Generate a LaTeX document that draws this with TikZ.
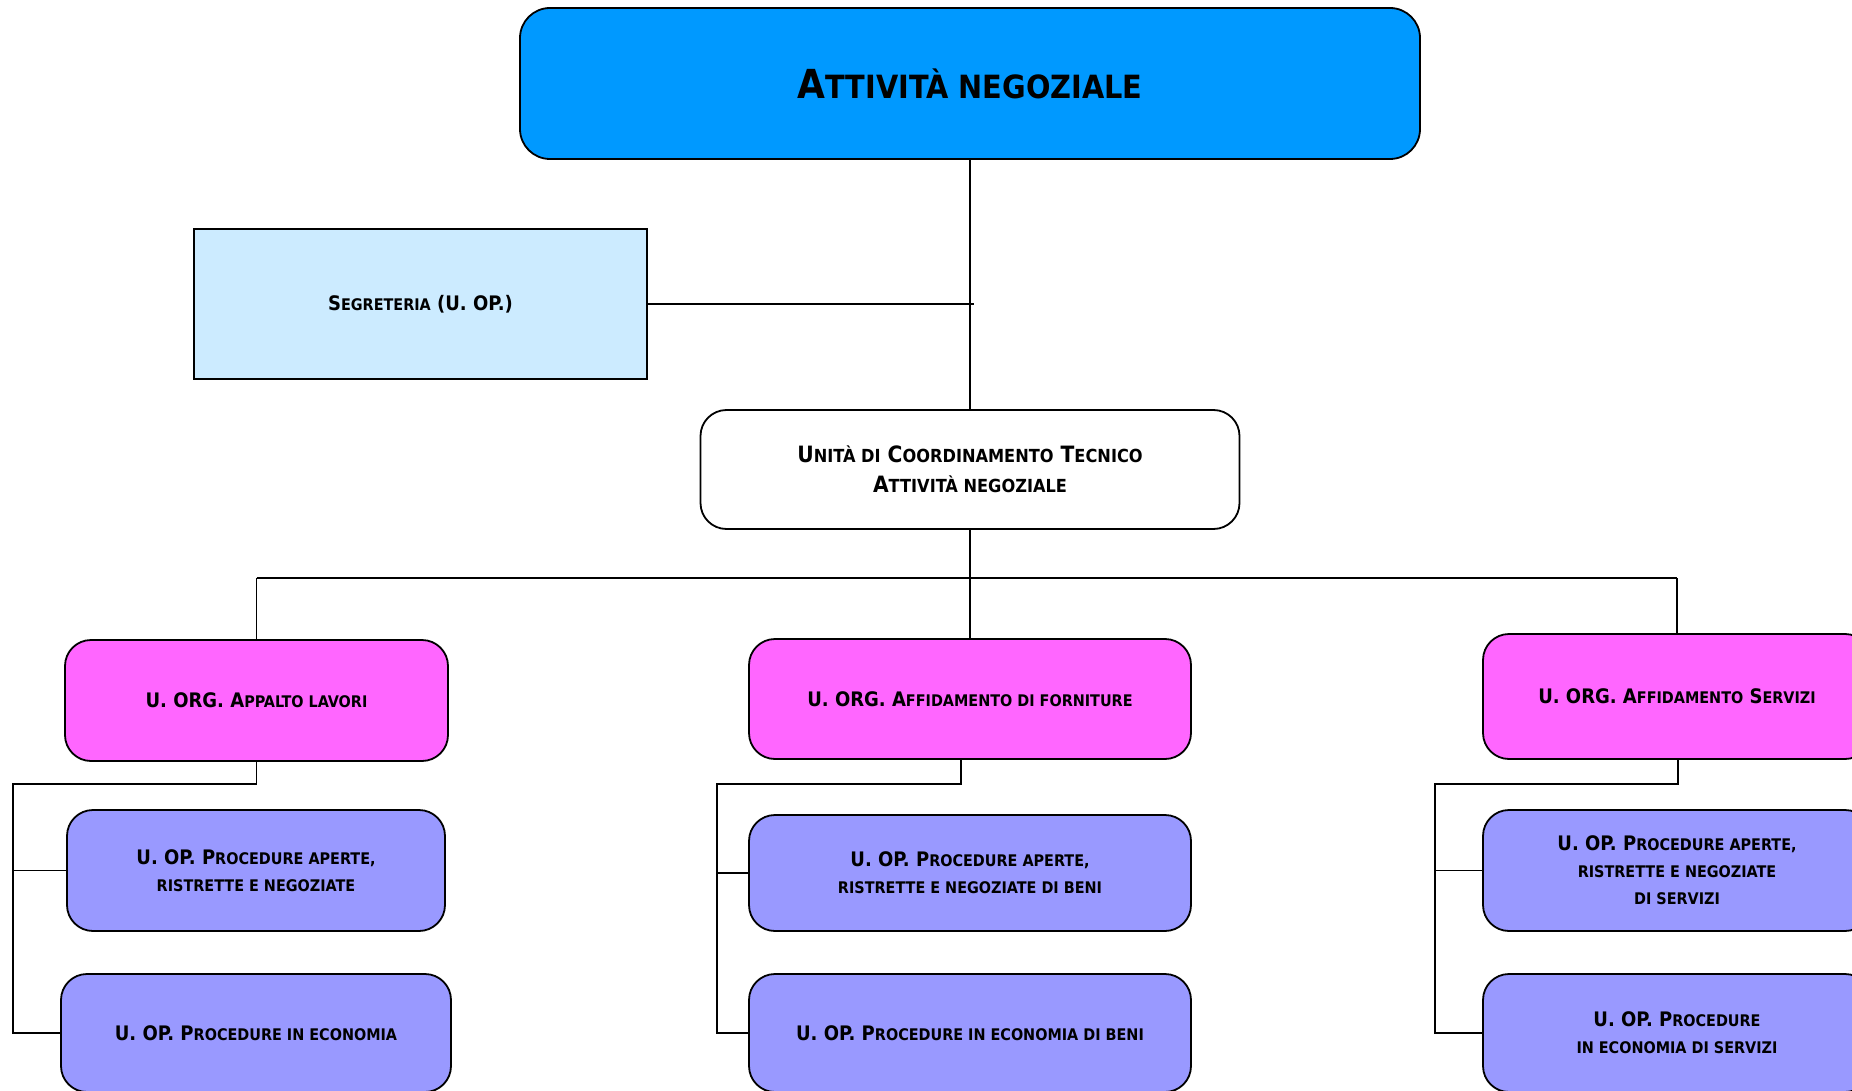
\documentclass[tikz,border=0pt]{standalone}
\usepackage{fontspec}
\setmainfont{DejaVu Sans Condensed}
\usepackage{graphicx}
\usetikzlibrary{positioning}

\definecolor{titleblue}{HTML}{0099FF}
\definecolor{segblue}{HTML}{CCEBFF}
\definecolor{orgpink}{HTML}{FF66FF}
\definecolor{opblue}{HTML}{9999FF}

\newcommand\smc[1]{\scalebox{0.8}{\MakeUppercase{#1}}}

\begin{document}
\begin{tikzpicture}[x=1pt, y=-1pt,
    box/.style = {draw, line width=1.8pt, rounded corners=26pt, align=center,
                  inner sep=0pt, font=\bfseries\fontsize{20}{27}\selectfont},
    titlebox/.style = {box, fill=titleblue, rounded corners=30pt,
                  minimum width=900pt, minimum height=151pt,
                  font=\bfseries\fontsize{40}{50}\selectfont},
    segbox/.style = {box, fill=segblue, sharp corners,
                  minimum width=453pt, minimum height=150pt},
    uctbox/.style = {box, fill=white, minimum width=539pt, minimum height=119pt,
                  font=\bfseries\fontsize{22.5}{30}\selectfont},
    orgbox/.style = {box, fill=orgpink},
    opbox/.style = {box, fill=opblue},
    link/.style = {draw, line width=1.8pt}]

  \useasboundingbox (0,0) rectangle (1852,1091);
  \clip (0,0) rectangle (1852,1091);

  \node[titlebox] (att) at (970,83.5) {A\smc{ttività negoziale}};
  \node[segbox] (seg) at (420.5,304) {S\smc{egreteria} (U. OP.)};
  \node[uctbox] (uct) at (970,469.5)
    {U\smc{nità di} C\smc{oordinamento} T\smc{ecnico}\\ A\smc{ttività negoziale}};

  \node[orgbox, minimum width=383pt, minimum height=121pt] (orgL) at (256.5,700.5)
    {U. ORG. A\smc{ppalto lavori}};
  \node[orgbox, minimum width=442pt, minimum height=120pt] (orgM) at (970,699)
    {U. ORG. A\smc{ffidamento di forniture}};
  \node[orgbox, minimum width=388pt, minimum height=125pt] (orgR) at (1677,696.5)
    {U. ORG. A\smc{ffidamento} S\smc{ervizi}};

  \node[opbox, minimum width=378pt, minimum height=121pt] (opL1) at (256,870.5)
    {U. OP. P\smc{rocedure aperte,}\\ \smc{ristrette e negoziate}};
  \node[opbox, minimum width=390pt, minimum height=118pt] (opL2) at (256,1033)
    {U. OP. P\smc{rocedure in economia}};
  \node[opbox, minimum width=442pt, minimum height=116pt] (opM1) at (970,873)
    {U. OP. P\smc{rocedure aperte,}\\ \smc{ristrette e negoziate di beni}};
  \node[opbox, minimum width=442pt, minimum height=118pt] (opM2) at (970,1033)
    {U. OP. P\smc{rocedure in economia di beni}};
  \node[opbox, minimum width=388pt, minimum height=121pt] (opR1) at (1677,870.5)
    {U. OP. P\smc{rocedure aperte,}\\ \smc{ristrette e negoziate}\\ \smc{di servizi}};
  \node[opbox, minimum width=388pt, minimum height=118pt] (opR2) at (1677,1033)
    {U. OP. P\smc{rocedure}\\ \smc{in economia di servizi}};

  \coordinate (segend) at (974,304);
  \coordinate (bus) at (970,578);

  \draw[link] (att.south) -- (uct.north);
  \draw[link] (seg.east) -- (segend);
  \draw[link] (uct.south) -- (orgM.north);
  \draw[link] (orgL.north |- bus) -- (orgR.north |- bus);
  \draw[link] (orgL.north |- bus) -- (orgL.north);
  \draw[link] (orgR.north |- bus) -- (orgR.north);

  \foreach \org/\dx/\spx/\opa/\opb in {orgL/0/13/opL1/opL2, orgM/-9/717/opM1/opM2,
                                        orgR/1/1435/opR1/opR2} {
    \draw[link] ([xshift=\dx pt]\org.south) |- (\spx,784) |- (\opb.west);
    \draw[link] (\opa.west -| \spx,0) -- (\opa.west);
  }
\end{tikzpicture}
\end{document}
